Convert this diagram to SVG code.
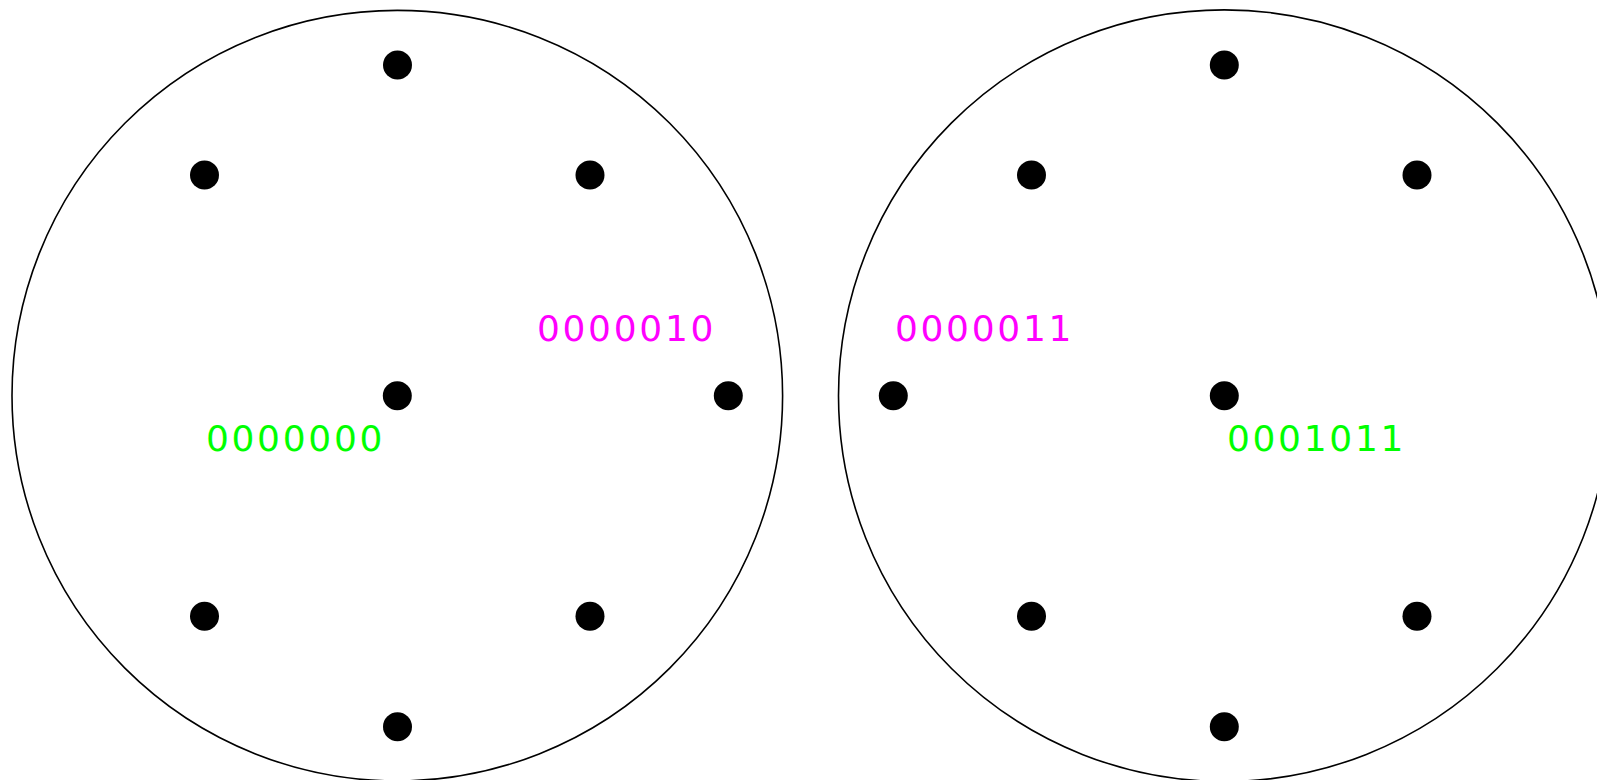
<svg xmlns="http://www.w3.org/2000/svg" width="1597" height="780" viewBox="0 0 1597 780">
<style>
.ring{fill:none;stroke:#000;stroke-width:1.6}
.dot{fill:#000}
.lbl{font-family:"DejaVu Sans",sans-serif;font-size:36px;letter-spacing:2.7px}
.mag{fill:#ff00ff}
.grn{fill:#00ff00}
</style>
<rect width="1597" height="780" fill="#fff"/>
<g id="left-wheel">
<circle class="ring" cx="397.3" cy="395.7" r="385.3"/>
<circle class="dot" cx="397.5" cy="65" r="14.5"/>
<circle class="dot" cx="204.5" cy="175" r="14.5"/>
<circle class="dot" cx="590" cy="175" r="14.5"/>
<circle class="dot" cx="397.3" cy="395.7" r="14.5"/>
<circle class="dot" cx="728.3" cy="395.7" r="14.5"/>
<circle class="dot" cx="204.5" cy="616.3" r="14.5"/>
<circle class="dot" cx="590" cy="616.3" r="14.5"/>
<circle class="dot" cx="397.5" cy="726.7" r="14.5"/>
<text class="lbl mag" x="536.9" y="340.7">0000010</text>
<text class="lbl grn" x="205.9" y="451">0000000</text>
</g>
<g id="right-wheel">
<circle class="ring" cx="1224.3" cy="395.7" r="385.8"/>
<circle class="dot" cx="1224.3" cy="65" r="14.5"/>
<circle class="dot" cx="1031.5" cy="175" r="14.5"/>
<circle class="dot" cx="1417" cy="175" r="14.5"/>
<circle class="dot" cx="893.3" cy="395.7" r="14.5"/>
<circle class="dot" cx="1224.3" cy="395.7" r="14.5"/>
<circle class="dot" cx="1031.5" cy="616.3" r="14.5"/>
<circle class="dot" cx="1417" cy="616.3" r="14.5"/>
<circle class="dot" cx="1224.3" cy="726.7" r="14.5"/>
<text class="lbl mag" x="894.9" y="340.7">0000011</text>
<text class="lbl grn" x="1226.9" y="451">0001011</text>
</g>
<g id="connectors"/>
</svg>
